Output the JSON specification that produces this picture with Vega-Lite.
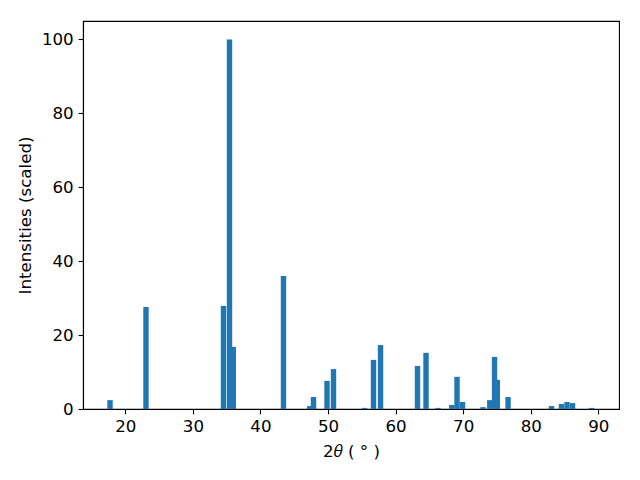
{
  "$schema": "https://vega.github.io/schema/vega-lite/v6.json",
  "autosize": {"type": "none"},
  "width": 536,
  "height": 388,
  "padding": {"left": 83, "top": 21, "right": 21, "bottom": 71},
  "background": "white",
  "config": {
    "view": {"stroke": "black", "strokeWidth": 1.1},
    "font": "DejaVu Sans",
    "axis": {
      "labelFont": "DejaVu Sans", "labelFontSize": 16.67, "labelColor": "black",
      "titleFont": "DejaVu Sans", "titleFontSize": 16.67, "titleFontWeight": "normal", "titleColor": "black",
      "domainColor": "black", "domainWidth": 1.1, "tickColor": "black", "tickWidth": 1.1, "tickSize": 4.9, "grid": false, "labelPadding": 4.9
    }
  },
  "data": {"values": [
    {"two_theta": 17.74, "intensity": 2.4},
    {"two_theta": 23.06, "intensity": 27.6},
    {"two_theta": 34.53, "intensity": 27.9},
    {"two_theta": 35.42, "intensity": 100},
    {"two_theta": 35.98, "intensity": 16.8},
    {"two_theta": 43.41, "intensity": 36.0},
    {"two_theta": 47.3, "intensity": 0.8},
    {"two_theta": 47.85, "intensity": 3.25},
    {"two_theta": 49.85, "intensity": 7.6},
    {"two_theta": 50.81, "intensity": 10.8},
    {"two_theta": 55.4, "intensity": 0.3},
    {"two_theta": 56.73, "intensity": 13.3},
    {"two_theta": 57.77, "intensity": 17.3},
    {"two_theta": 63.24, "intensity": 11.65},
    {"two_theta": 64.5, "intensity": 15.2},
    {"two_theta": 66.28, "intensity": 0.3},
    {"two_theta": 68.31, "intensity": 1.1},
    {"two_theta": 69.09, "intensity": 8.7},
    {"two_theta": 69.9, "intensity": 1.9},
    {"two_theta": 72.94, "intensity": 0.5},
    {"two_theta": 73.94, "intensity": 2.4},
    {"two_theta": 74.64, "intensity": 14.1},
    {"two_theta": 75.05, "intensity": 7.9},
    {"two_theta": 76.64, "intensity": 3.25},
    {"two_theta": 83.07, "intensity": 0.8},
    {"two_theta": 84.55, "intensity": 1.35},
    {"two_theta": 85.37, "intensity": 1.9},
    {"two_theta": 86.18, "intensity": 1.6},
    {"two_theta": 89.0, "intensity": 0.3}
  ]},
  "mark": {"type": "bar", "size": 5.4, "color": "#1f77b4", "clip": true},
  "encoding": {
    "x": {
      "field": "two_theta", "type": "quantitative",
      "scale": {"domain": [13.74, 93.06], "nice": false, "zero": false, "padding": 0},
      "axis": {"values": [20, 30, 40, 50, 60, 70, 80, 90], "title": "2𝜃 ( ° )", "titlePadding": 8}
    },
    "y": {
      "field": "intensity", "type": "quantitative",
      "scale": {"domain": [0, 105], "nice": false},
      "axis": {"values": [0, 20, 40, 60, 80, 100], "title": "Intensities (scaled)", "titlePadding": 7}
    }
  }
}
